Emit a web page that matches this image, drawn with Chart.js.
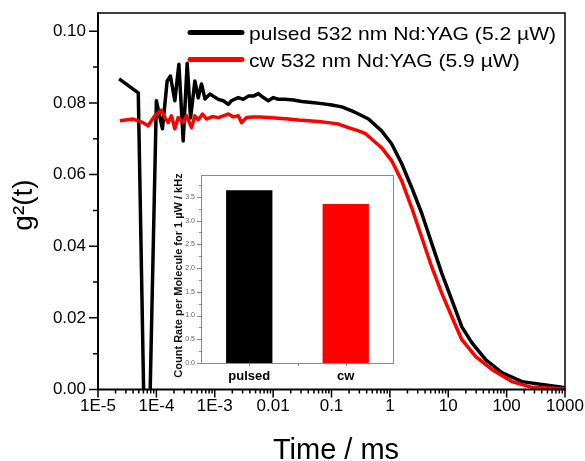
<!DOCTYPE html>
<html>
<head>
<meta charset="utf-8">
<script src="https://cdn.jsdelivr.net/npm/chart.js@4.4.1/dist/chart.umd.min.js"></script>
<style>
  html, body { margin: 0; padding: 0; background: #fff; }
  #wrap { position: relative; width: 585px; height: 461px; overflow: hidden; }
  #main { position: absolute; left: 0; top: 0; }
  #inset { position: absolute; left: 165px; top: 165px; }
</style>
</head>
<body>
<div id="wrap">
  <canvas id="main" width="585" height="461"></canvas>
  <canvas id="inset" width="235" height="225"></canvas>
</div>
<script>
// ---------- data ----------
const seriesLabels = ['pulsed 532 nm Nd:YAG (5.2 \u00B5W)', 'cw 532 nm Nd:YAG (5.9 \u00B5W)'];

const pulsedTime = [2.3e-5, 4.9e-5, 6.2e-5, 7.6e-5, 1.0e-4, 1.27e-4, 1.53e-4, 1.74e-4, 2.07e-4, 2.43e-4,
  2.88e-4, 3.37e-4, 3.85e-4, 4.57e-4, 5.21e-4, 5.93e-4, 6.79e-4, 8.28e-4, 9.4e-4, 1.15e-3,
  1.40e-3, 1.71e-3, 1.92e-3, 2.53e-3, 3.08e-3, 3.76e-3, 4.58e-3, 5.58e-3, 6.81e-3, 8.28e-3,
  1.01e-2, 1.23e-2, 1.60e-2, 2.23e-2, 3.09e-2, 4.59e-2, 6.81e-2, 0.101, 0.150, 0.223,
  0.291, 0.431, 0.721, 1.07, 1.59, 2.36, 3.51, 5.21, 7.73, 11.5,
  17.1, 25.3, 44.1, 82.8, 183, 403, 887, 1000];
const pulsedG = [0.0867, 0.0828, -0.0100, -0.0100, 0.0806, 0.0728, 0.0861, 0.0875, 0.0806, 0.0908,
  0.0694, 0.0911, 0.0758, 0.0861, 0.0814, 0.0853, 0.0811, 0.0825, 0.0819, 0.0810,
  0.0806, 0.0796, 0.0806, 0.0815, 0.0810, 0.0819, 0.0819, 0.0826, 0.0815, 0.0806,
  0.0815, 0.0810, 0.0810, 0.0808, 0.0804, 0.0801, 0.0798, 0.0794, 0.0789, 0.0778,
  0.0769, 0.0755, 0.0722, 0.0686, 0.0631, 0.0564, 0.0492, 0.0408, 0.0325, 0.0250,
  0.0175, 0.0131, 0.0083, 0.0047, 0.0022, 0.0014, 0.0006, 0.0005];

const cwTime = [2.36e-5, 3.99e-5, 5.93e-5, 7.21e-5, 9.4e-5, 1.22e-4, 1.40e-4, 1.59e-4, 1.81e-4, 2.07e-4,
  2.36e-4, 2.88e-4, 3.28e-4, 4.0e-4, 4.57e-4, 5.21e-4, 6.18e-4, 7.23e-4, 9.1e-4, 1.15e-3,
  1.40e-3, 1.71e-3, 2.08e-3, 2.53e-3, 2.88e-3, 3.52e-3, 4.58e-3, 5.97e-3, 8.28e-3, 1.23e-2,
  1.83e-2, 2.71e-2, 4.03e-2, 5.98e-2, 8.87e-2, 0.132, 0.196, 0.291, 0.384, 0.721,
  1.07, 1.59, 2.36, 3.51, 5.21, 7.73, 11.5, 17.1, 29.6, 55.8,
  123, 271, 887, 1000];
const cwG = [0.0750, 0.0755, 0.0745, 0.0736, 0.0764, 0.0780, 0.0759, 0.0745, 0.0764, 0.0728,
  0.0759, 0.0745, 0.0764, 0.0731, 0.0764, 0.0753, 0.0769, 0.0755, 0.0762, 0.0759,
  0.0764, 0.0769, 0.0761, 0.0764, 0.0745, 0.0759, 0.0761, 0.0761, 0.0759, 0.0757,
  0.0755, 0.0752, 0.0750, 0.0748, 0.0745, 0.0741, 0.0731, 0.0722, 0.0714, 0.0675,
  0.0639, 0.0583, 0.0508, 0.0425, 0.0342, 0.0269, 0.0203, 0.0139, 0.0092, 0.0056,
  0.0022, 0.0006, 0.0002, 0.0002];

const xTickValues = [1e-5, 1e-4, 1e-3, 0.01, 0.1, 1, 10, 100, 1000];
const xTickLabels = ['1E-5', '1E-4', '1E-3', '0.01', '0.1', '1', '10', '100', '1000'];
const yTickValues = [0, 0.02, 0.04, 0.06, 0.08, 0.10];
const yTickLabels = ['0.00', '0.02', '0.04', '0.06', '0.08', '0.10'];
const xTitle = 'Time / ms';
const yTitle = 'g\u00B2(t)';

const insetCategories = ['pulsed', 'cw'];
const insetValues = [3.64, 3.35];
const insetTickValues = [0, 0.5, 1.0, 1.5, 2.0, 2.5, 3.0, 3.5];
const insetTickLabels = ['0.0', '0.5', '1.0', '1.5', '2.0', '2.5', '3.0', '3.5'];
const insetYTitle = 'Count Rate per Molecule for 1 \u00B5W / kHz';

// ---------- styling ----------
const FONT = '"Liberation Sans", Arial, Helvetica, sans-serif';
Chart.defaults.font.family = FONT;

function noPad(s) { s.paddingLeft = 0; s.paddingRight = 0; s.paddingTop = 0; s.paddingBottom = 0; }

const mainDecor = {
  id: 'mainDecor',
  afterDraw(chart) {
    const { ctx, chartArea: a, scales: { x, y } } = chart;
    ctx.save();
    ctx.strokeStyle = '#000';
    ctx.lineCap = 'butt';
    // frame
    ctx.lineWidth = 1.5;
    ctx.beginPath();
    ctx.moveTo(a.left, a.top); ctx.lineTo(a.right, a.top); ctx.lineTo(a.right, a.bottom);
    ctx.stroke();
    ctx.lineWidth = 2;
    ctx.beginPath();
    ctx.moveTo(a.left, a.top - 0.75); ctx.lineTo(a.left, a.bottom); ctx.lineTo(a.right + 0.75, a.bottom);
    ctx.stroke();
    // tick marks (outward)
    ctx.lineWidth = 1.5;
    ctx.beginPath();
    for (let k = 0; k <= 10; k++) {
      const py = y.getPixelForValue(k / 100);
      const len = (k % 2 === 0) ? 9 : 5;
      ctx.moveTo(a.left - len, py); ctx.lineTo(a.left, py);
    }
    for (let d = -5; d <= 3; d++) {
      for (let m = 1; m <= 9; m++) {
        if (d === 3 && m > 1) break;
        const px = x.getPixelForValue(m * Math.pow(10, d));
        const len = (m === 1) ? 8 : 4;
        ctx.moveTo(px, a.bottom); ctx.lineTo(px, a.bottom + len);
      }
    }
    ctx.stroke();

    // axis titles
    ctx.fillStyle = '#000';
    ctx.textAlign = 'center';
    ctx.textBaseline = 'alphabetic';
    ctx.font = '29px ' + FONT;
    ctx.fillText(xTitle, 336, 459);
    ctx.save();
    ctx.translate(32, 205);
    ctx.rotate(-Math.PI / 2);
    ctx.font = '28px ' + FONT;
    ctx.fillText(yTitle, 0, 0);
    ctx.restore();

    // legend
    const ds = chart.data.datasets;
    const legendY = [32.5, 59.5];
    ds.forEach((d, i) => {
      ctx.strokeStyle = d.borderColor;
      ctx.lineWidth = 5;
      ctx.lineCap = 'round';
      ctx.beginPath();
      ctx.moveTo(190, legendY[i]); ctx.lineTo(242, legendY[i]);
      ctx.stroke();
      ctx.save();
      ctx.translate(249, legendY[i] + 7);
      ctx.scale(1.11, 1);
      ctx.fillStyle = '#000';
      ctx.textAlign = 'left';
      ctx.font = '19px ' + FONT;
      ctx.fillText(d.label, 0, 0);
      ctx.restore();
    });
    ctx.restore();
  }
};

new Chart(document.getElementById('main'), {
  type: 'line',
  data: {
    datasets: [
      {
        label: seriesLabels[0],
        data: pulsedTime.map((t, i) => ({ x: t, y: pulsedG[i] })),
        borderColor: '#000000',
        borderWidth: 3.5,
        pointRadius: 0,
        tension: 0,
        borderJoinStyle: 'round',
        order: 1
      },
      {
        label: seriesLabels[1],
        data: cwTime.map((t, i) => ({ x: t, y: cwG[i] })),
        borderColor: '#ff0000',
        borderWidth: 3.5,
        pointRadius: 0,
        tension: 0,
        borderJoinStyle: 'round',
        order: 0
      }
    ]
  },
  options: {
    responsive: false,
    animation: false,
    devicePixelRatio: 1,
    layout: { padding: { left: 0, right: 20, top: 13, bottom: 0 } },
    plugins: { legend: { display: false }, tooltip: { enabled: false } },
    scales: {
      x: {
        type: 'logarithmic',
        min: 1e-5,
        max: 1000,
        afterBuildTicks: s => { s.ticks = xTickValues.map(v => ({ value: v })); },
        afterFit: s => { s.height = 71.5; noPad(s); },
        grid: { display: false, drawTicks: false },
        border: { display: false },
        ticks: {
          padding: 7,
          color: '#000',
          autoSkip: false,
          maxRotation: 0,
          font: { size: 17 },
          callback: (v, i) => xTickLabels[i]
        }
      },
      y: {
        type: 'linear',
        min: 0,
        max: 0.1051,
        afterBuildTicks: s => { s.ticks = yTickValues.map(v => ({ value: v })); },
        afterFit: s => { s.width = 98; noPad(s); },
        grid: { display: false, drawTicks: false },
        border: { display: false },
        ticks: {
          padding: 12,
          color: '#000',
          font: { size: 17 },
          callback: (v, i) => yTickLabels[i]
        }
      }
    }
  },
  plugins: [mainDecor]
});

// ---------- inset bar chart ----------
const insetDecor = {
  id: 'insetDecor',
  afterDraw(chart) {
    const { ctx, chartArea: a, scales: { x, y } } = chart;
    ctx.save();
    ctx.strokeStyle = '#8a8a8a';
    ctx.lineWidth = 1;
    ctx.strokeRect(Math.round(a.left) + 0.5, Math.round(a.top) + 0.5,
      Math.round(a.right - a.left) - 1, Math.round(a.bottom - a.top));
    ctx.beginPath();
    for (let k = 0; k <= 15; k++) {
      const py = Math.round(y.getPixelForValue(k * 0.25)) + 0.5;
      const len = (k % 2 === 0) ? 4 : 2;
      ctx.moveTo(a.left - len, py); ctx.lineTo(a.left, py);
    }
    const c0 = x.getPixelForValue(0), c1 = x.getPixelForValue(1);
    [c0, (c0 + c1) / 2, c1].forEach(px => {
      const p = Math.round(px) + 0.5;
      ctx.moveTo(p, a.bottom); ctx.lineTo(p, a.bottom + 3);
    });
    ctx.stroke();
    // y title
    ctx.save();
    ctx.translate(16.5, 110.5);
    ctx.rotate(-Math.PI / 2);
    ctx.fillStyle = '#111';
    ctx.textAlign = 'center';
    ctx.textBaseline = 'alphabetic';
    ctx.font = 'bold 11px ' + FONT;
    ctx.fillText(insetYTitle, 0, 0);
    ctx.restore();
    ctx.restore();
  }
};

new Chart(document.getElementById('inset'), {
  type: 'bar',
  data: {
    labels: insetCategories,
    datasets: [{
      data: insetValues,
      backgroundColor: ['#000000', '#ff0000'],
      borderWidth: 0,
      categoryPercentage: 1,
      barPercentage: 0.48
    }]
  },
  options: {
    responsive: false,
    animation: false,
    devicePixelRatio: 1,
    layout: { padding: { left: 0, right: 6, top: 10, bottom: 0 } },
    plugins: { legend: { display: false }, tooltip: { enabled: false } },
    scales: {
      x: {
        afterFit: s => { s.height = 27; noPad(s); },
        grid: { display: false, drawTicks: false },
        border: { display: false },
        ticks: { padding: 6, color: '#000', font: { size: 13, weight: 'bold' } }
      },
      y: {
        min: 0,
        max: 3.96,
        afterBuildTicks: s => { s.ticks = insetTickValues.map(v => ({ value: v })); },
        afterFit: s => { s.width = 36; noPad(s); },
        grid: { display: false, drawTicks: false },
        border: { display: false },
        ticks: { padding: 6, color: '#666', font: { size: 7 }, callback: (v, i) => insetTickLabels[i] }
      }
    }
  },
  plugins: [insetDecor]
});
</script>
</body>
</html>
